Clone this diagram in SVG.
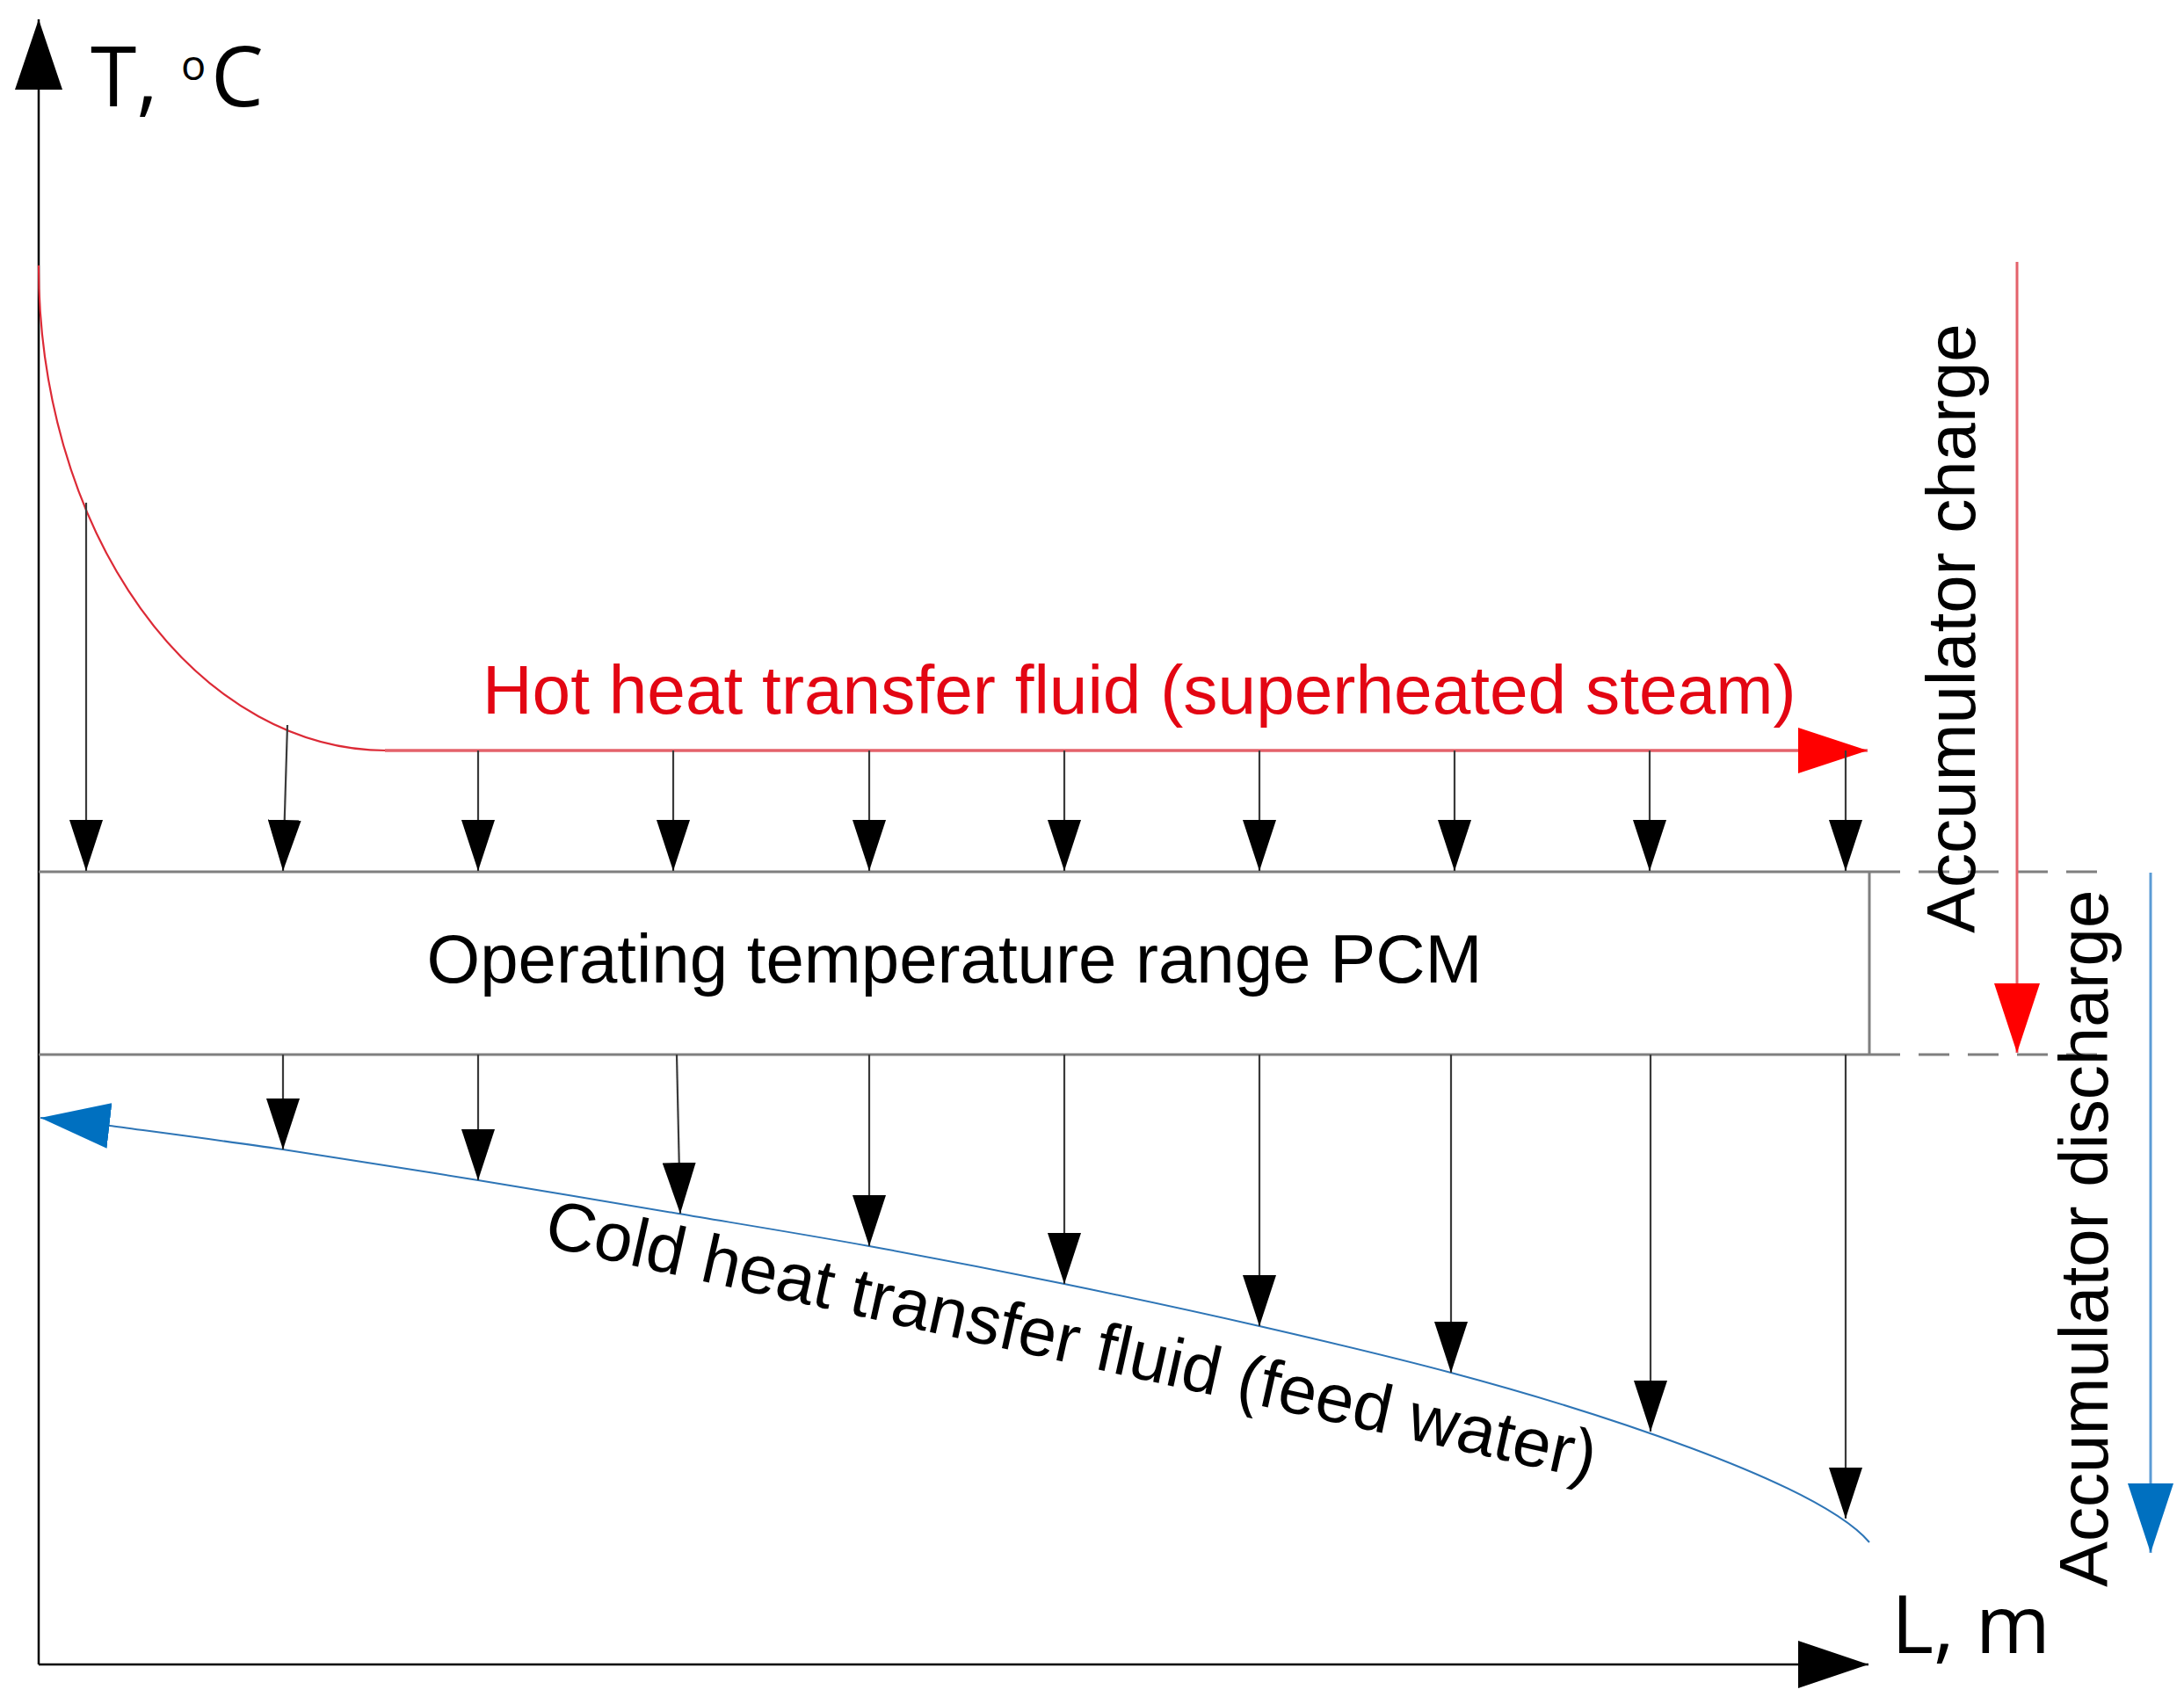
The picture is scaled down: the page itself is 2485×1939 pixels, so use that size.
<svg xmlns="http://www.w3.org/2000/svg" width="2485" height="1939" viewBox="0 0 2485 1939">
<style>
text{font-family:"Liberation Sans",Arial,sans-serif;font-size:78px;fill:#000}
.ax{font-family:"Open Sans","Noto Sans",sans-serif;font-size:95px}
.axis{stroke:#000;stroke-width:2.5;fill:none}
.band{stroke:#7f7f7f;stroke-width:3;fill:none}
.dash{stroke:#7f7f7f;stroke-width:3;fill:none;stroke-dasharray:35 21}
.heat{stroke:#3a3a3a;stroke-width:2.2;fill:none;marker-end:url(#hk)}
.hot{stroke:#e4626b;stroke-width:3.5;fill:none}
.cold{stroke:#2e75b6;stroke-width:2;fill:none}
</style>
<defs>
<marker id="hk" viewBox="0 0 58 38" markerWidth="58" markerHeight="38" refX="58" refY="19" orient="auto" markerUnits="userSpaceOnUse"><path d="M0,0L58,19L0,38z" fill="#000"/></marker>
<marker id="ha" viewBox="0 0 80 54" markerWidth="80" markerHeight="54" refX="80" refY="27" orient="auto" markerUnits="userSpaceOnUse"><path d="M0,0L80,27L0,54z" fill="#000"/></marker>
<marker id="hr" viewBox="0 0 79 52" markerWidth="79" markerHeight="52" refX="79" refY="26" orient="auto-start-reverse" markerUnits="userSpaceOnUse"><path d="M0,0L79,26L0,52z" fill="#ff0000"/></marker>
<marker id="hb" viewBox="0 0 79 52" markerWidth="79" markerHeight="52" refX="79" refY="26" orient="auto-start-reverse" markerUnits="userSpaceOnUse"><path d="M0,0L79,26L0,52z" fill="#0070c0"/></marker>
</defs>
<rect width="2485" height="1939" fill="#fff"/>

<g id="axes">
<path class="axis" d="M44,1894V22" marker-end="url(#ha)"/>
<path class="axis" d="M44,1894H2126" marker-end="url(#ha)"/>
<text class="ax" x="103" y="121">T,</text>
<text class="ax" x="206" y="91" style="font-size:47px">o</text>
<text class="ax" x="240" y="121">C</text>
<text class="ax" x="2152" y="1881" style="font-size:92px">L, m</text>
</g>

<g id="pcm-band">
<path class="band" d="M44,992H2127M44,1200H2127M2127,992V1200"/>
<path class="dash" d="M2127,992H2389M2127,1200H2389"/>
<text x="1086" y="1118" text-anchor="middle">Operating temperature range PCM</text>
</g>

<g id="hot-fluid">
<path d="M44,302A396,552 0 0 0 440,854" fill="none" stroke="#dc2a36" stroke-width="2.2"/>
<path class="hot" d="M438,854H2125" style="marker-end:url(#hr)"/>
<text x="549" y="812" style="fill:#e30613;font-size:78.4px">Hot heat transfer fluid (superheated steam)</text>
</g>

<g id="cold-fluid">
<path class="cold" style="marker-start:url(#hb)" d="M46,1272L125,1281C157.8,1285.5 252.2,1297.7 322,1308C391.8,1318.3 469,1330.8 544,1343C619,1355.2 697.8,1368.5 772,1381C846.2,1393.5 915.8,1404.7 989,1418C1062.2,1431.3 1137,1445.8 1211,1461C1285,1476.2 1359.7,1492.2 1433,1509C1506.3,1525.8 1576,1542 1651,1562C1801,1602 2067,1685 2127,1755"/>
<text transform="translate(617,1417) rotate(12.6)">Cold heat transfer fluid (feed water)</text>
</g>

<g id="charge">
<path d="M2295,298V1198" stroke="#e4626b" stroke-width="3" fill="none" marker-end="url(#hr)"/>
<text transform="translate(2247,1062) rotate(-90)">Accumulator charge</text>
</g>

<g id="discharge">
<path d="M2447,993V1767" stroke="#5b9bd5" stroke-width="3" fill="none" marker-end="url(#hb)"/>
<text transform="translate(2398,1806) rotate(-90)">Accumulator discharge</text>
</g>

<g id="connectors">
<path class="heat" d="M98,572V991"/>
<path class="heat" d="M327,825L322,991"/>
<path class="heat" d="M544,854V991"/>
<path class="heat" d="M766,854V991"/>
<path class="heat" d="M989,854V991"/>
<path class="heat" d="M1211,854V991"/>
<path class="heat" d="M1433,854V991"/>
<path class="heat" d="M1655,854V991"/>
<path class="heat" d="M1877,854V991"/>
<path class="heat" d="M2100,854V991"/>
<path class="heat" d="M322,1200V1308"/>
<path class="heat" d="M544,1200V1343"/>
<path class="heat" d="M770,1200L774,1381"/>
<path class="heat" d="M989,1200V1418"/>
<path class="heat" d="M1211,1200V1461"/>
<path class="heat" d="M1433,1200V1509"/>
<path class="heat" d="M1651,1200V1562"/>
<path class="heat" d="M1878,1200V1629"/>
<path class="heat" d="M2100,1200V1728"/>
</g>
</svg>
